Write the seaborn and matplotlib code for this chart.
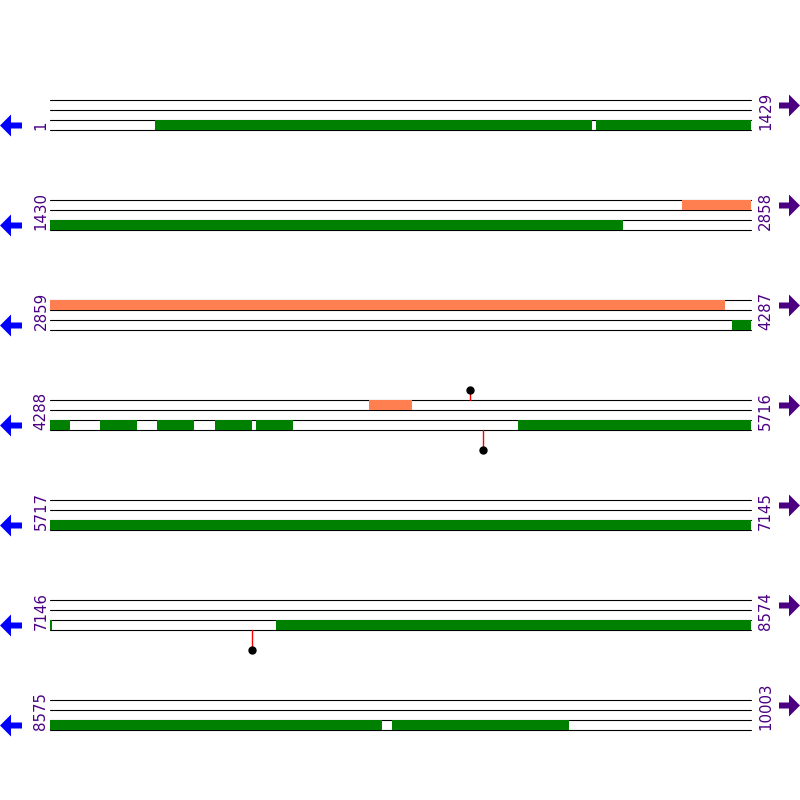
import matplotlib
matplotlib.use("Agg")
import matplotlib.pyplot as plt
from matplotlib.patches import FancyArrow
import seaborn as sns

# Sequence map: 10003 bp split over 7 rows of 1429 bp
row_starts = [1, 1430, 2859, 4288, 5717, 7146, 8575]
row_ends = [1429, 2858, 4287, 5716, 7145, 8574, 10003]

# features on the lower track (green), start/end in bp
green_feats = [(215, 1105), (1114, 2598), (4249, 4327), (4390, 4465),
               (4506, 4581), (4624, 4698), (4708, 4783), (5242, 7150),
               (7607, 9250), (9272, 9631)]
# features on the upper track (coral)
orange_feats = [(2718, 4235), (4938, 5024)]
# point marks (lollipops)
top_marks = [5144]
bottom_marks = [5171, 7558]

GREEN = "#008000"
ORANGE = "#FF7F50"
INDIGO = "#4B0082"

sns.set_theme(style="white")
plt.rcParams["font.family"] = ["DejaVu Sans"]

fig = plt.figure(figsize=(8, 8), dpi=100)
overlay = fig.add_axes([0, 0, 1, 1])
overlay.set_xlim(0, 800)
overlay.set_ylim(800, 0)
overlay.axis("off")

for i, (rs, re) in enumerate(zip(row_starts, row_ends)):
    top = 100 + 100 * i
    ax = fig.add_axes([50 / 800, 1 - (top + 30) / 800, 701 / 800, 30 / 800])
    ax.set_xlim(rs, re + 1)
    ax.set_ylim(30, 0)
    ax.axis("off")

    for y in (0, 10, 20, 30):
        ax.axhline(y, color="black", lw=0.8, zorder=1, clip_on=False)

    ax.broken_barh([(s, e - s + 1) for s, e in green_feats], (20, 10),
                   facecolors=GREEN, linewidth=0, zorder=2)
    ax.broken_barh([(s, e - s + 1) for s, e in orange_feats], (0, 10),
                   facecolors=ORANGE, linewidth=0, zorder=2)

    for p in top_marks:
        if rs <= p <= re:
            ax.plot([p, p], [0, -10], color="red", lw=1, clip_on=False, zorder=3)
            ax.plot(p, -10, "o", color="black", ms=5, clip_on=False, zorder=4)
    for p in bottom_marks:
        if rs <= p <= re:
            ax.plot([p, p], [30, 50], color="red", lw=1, clip_on=False, zorder=3)
            ax.plot(p, 50, "o", color="black", ms=5, clip_on=False, zorder=4)

    # position labels
    overlay.text(41, top + 30, str(rs), rotation=90, ha="center", va="bottom",
                 color=INDIGO, fontsize=10.8)
    overlay.text(765.5, top + 30, str(re), rotation=90, ha="center", va="bottom",
                 color=INDIGO, fontsize=10.8)

    # strand arrows
    overlay.add_patch(FancyArrow(22, top + 25.5, -22, 0, width=6, head_width=22,
                                 head_length=11, length_includes_head=True,
                                 color="blue", lw=0))
    overlay.add_patch(FancyArrow(779, top + 5.5, 21, 0, width=6, head_width=22,
                                 head_length=11, length_includes_head=True,
                                 color=INDIGO, lw=0))

fig.savefig("out.png", dpi=100, facecolor="white")
plt.close(fig)
